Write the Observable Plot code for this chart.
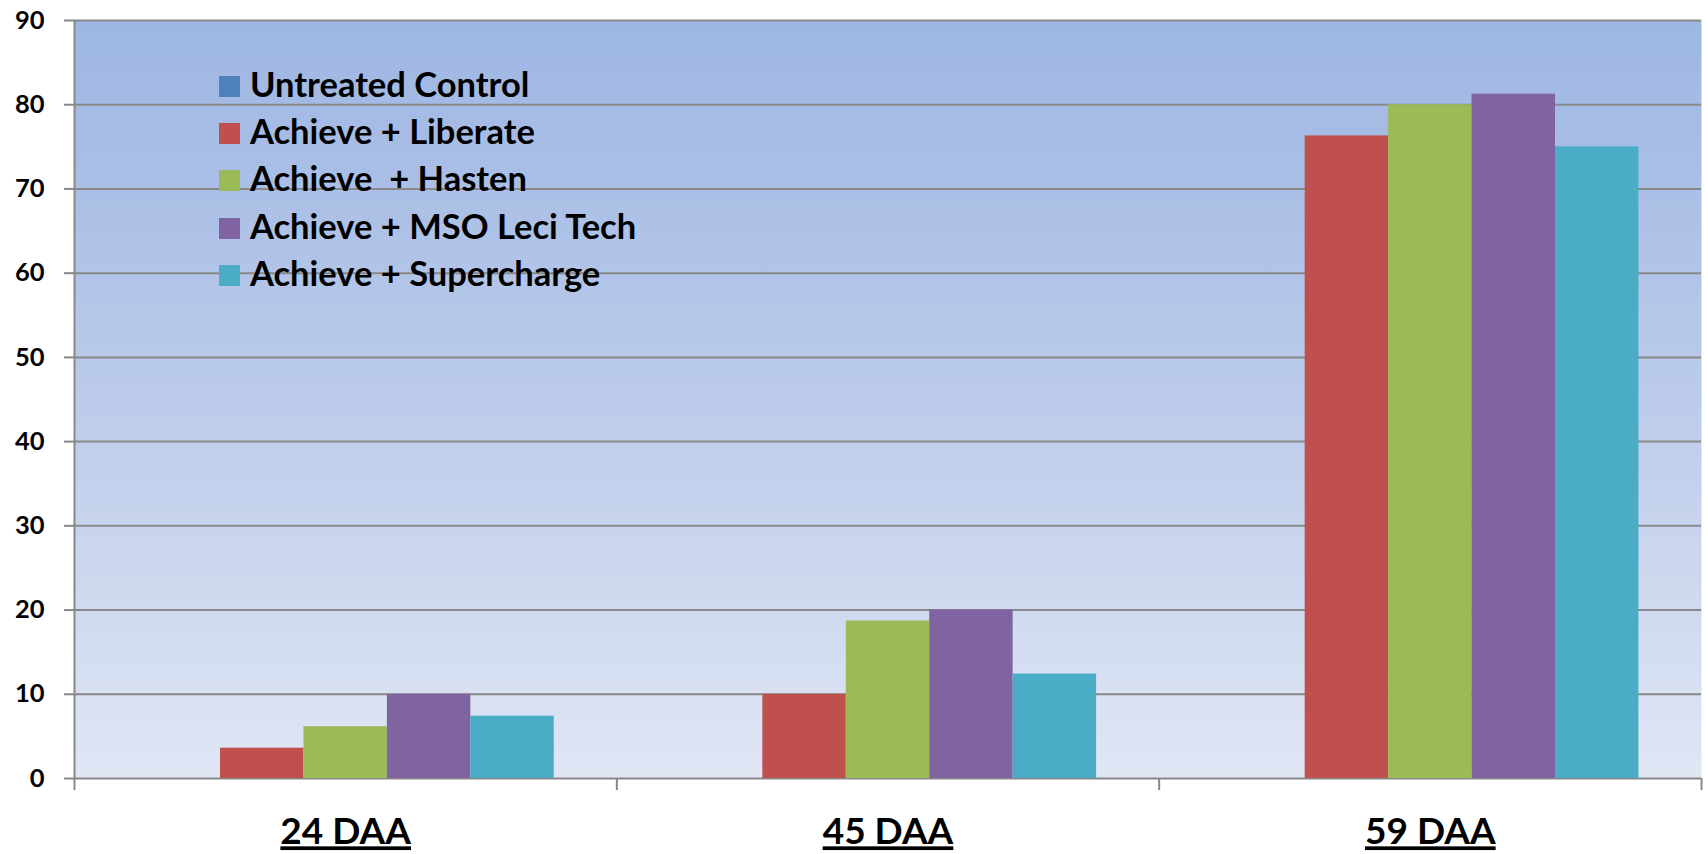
<!DOCTYPE html>
<html>
<head>
<meta charset="utf-8">
<script src="https://cdn.jsdelivr.net/npm/d3@7"></script>
<script src="https://cdn.jsdelivr.net/npm/@observablehq/plot@0.6"></script>
<style>
  html, body { margin: 0; padding: 0; background: #ffffff; }
  #wrap { position: relative; width: 1708px; height: 854px; font-family: "Lato", sans-serif; }
  #legend { position: absolute; left: 219px; top: 63px; }
  .lg-row { display: flex; align-items: center; height: 47.2px; }
  .lg-sw { width: 21px; height: 21px; margin-right: 10px; flex: none; }
  .lg-tx { font-family: "Lato", sans-serif; font-weight: bold; font-size: 34.5px; color: #000; white-space: pre; position: relative; top: -3px; }
</style>
</head>
<body>
<div id="wrap"></div>
<script>
// ---- data ----
const groups = ["24 DAA", "45 DAA", "59 DAA"];
const series = ["Untreated Control", "Achieve + Liberate", "Achieve  + Hasten", "Achieve + MSO Leci Tech", "Achieve + Supercharge"];
const colors = ["#4F81BD", "#C0504D", "#9BBB59", "#8064A2", "#4BACC6"];
const untreated  = [0, 0, 0];
const liberate   = [3.6, 10, 76.3];
const hasten     = [6.15, 18.7, 80];
const leciTech   = [10, 20, 81.25];
const supercharge = [7.4, 12.4, 75];
const yTicks = [0, 10, 20, 30, 40, 50, 60, 70, 80, 90];

const values = [untreated, liberate, hasten, leciTech, supercharge];
const rows = [];
groups.forEach((g, gi) => {
  series.forEach((s, si) => {
    rows.push({group: g, gi, series: s, si, value: values[si][gi]});
  });
});

// Excel-like clustered layout: gap width 150% => 0.75 bar on each side
const OUTER = 0.75;
const STEPS = series.length + 2 * OUTER;
const xBounds = d3.range(groups.length + 1);
const xCenters = groups.map((g, i) => i + 0.5);
const grid = "#888888";

const plot = Plot.plot({
  width: 1708,
  height: 854,
  marginLeft: 74,
  marginRight: 7,
  marginTop: 20,
  marginBottom: 76,
  style: {fontFamily: "Lato, sans-serif", fontWeight: "bold", fontSize: "25px", color: "#000", background: "#fff"},
  x: {type: "linear", domain: [0, groups.length], axis: null},
  y: {domain: [0, 90], axis: null},
  color: {domain: series, range: colors},
  marks: [
    Plot.frame({fill: "url(#bggrad)", stroke: "none"}),
    Plot.gridY({ticks: yTicks, stroke: grid, strokeOpacity: 1, strokeWidth: 2}),
    Plot.rect(rows, {
      x1: d => d.gi + (OUTER + d.si) / STEPS,
      x2: d => d.gi + (OUTER + d.si + 1) / STEPS,
      y1: 0,
      y2: "value",
      fill: "series"
    }),
    Plot.ruleX([0], {y1: yTicks[0], y2: yTicks[yTicks.length - 1], stroke: grid, strokeWidth: 2}),
    Plot.axisY({ticks: yTicks, label: null, tickSize: 10, tickPadding: 20, stroke: grid, strokeWidth: 2, fill: "#000", fontSize: 25.5, fontWeight: "bold"}),
    Plot.axisX({ticks: xBounds, label: null, tickSize: 12, tickFormat: () => "", stroke: grid, strokeWidth: 2}),
    Plot.text(groups, {x: (d, i) => xCenters[i], frameAnchor: "bottom", dy: 54, lineAnchor: "middle", text: d => d, fontSize: 37, fontWeight: "bold", fill: "#000"})
  ]
});

// gradient definition for the plot background
const svg = d3.select(plot);
const defs = svg.insert("defs", ":first-child");
const lg = defs.append("linearGradient").attr("id", "bggrad").attr("x1", 0).attr("y1", 0).attr("x2", 0).attr("y2", 1);
lg.append("stop").attr("offset", "0%").attr("stop-color", "#9DB6E3");
lg.append("stop").attr("offset", "50%").attr("stop-color", "#BCCBEA");
lg.append("stop").attr("offset", "100%").attr("stop-color", "#E0E6F4");
svg.selectAll('g[aria-label="text"] text').style("text-decoration", "underline");

const wrap = document.getElementById("wrap");
wrap.appendChild(plot);

// legend inside plot area
const legend = d3.select(wrap).append("div").attr("id", "legend");
series.forEach((s, i) => {
  const row = legend.append("div").attr("class", "lg-row");
  row.append("div").attr("class", "lg-sw").style("background", colors[i]);
  row.append("span").attr("class", "lg-tx").text(s);
});
</script>
</body>
</html>
